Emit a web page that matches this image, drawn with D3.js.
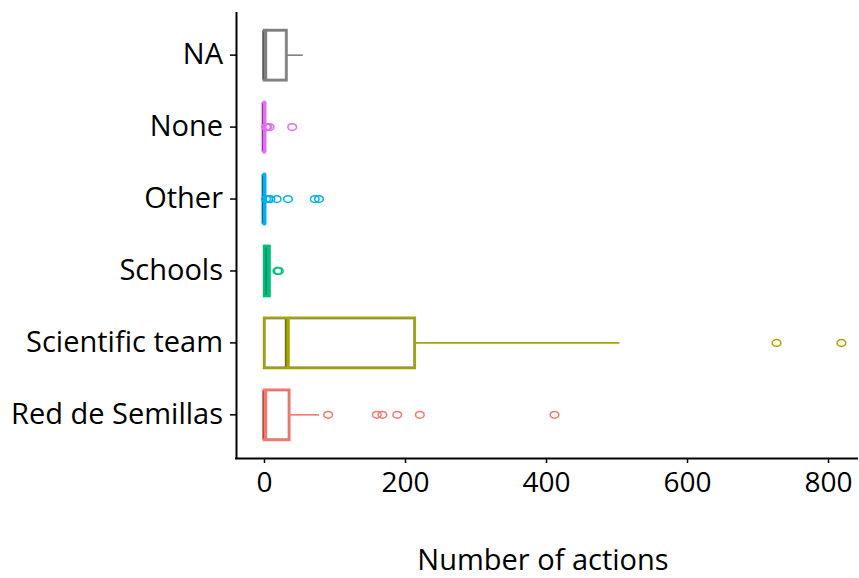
<!DOCTYPE html>
<html>
<head>
<meta charset="utf-8">
<script src="https://cdn.jsdelivr.net/npm/d3@7"></script>
<style>
  html, body { margin: 0; padding: 0; background: #fff; }
  svg text { font-family: "Open Sans", "Noto Sans", sans-serif; fill: #000; }
</style>
</head>
<body>
<svg id="chart" width="859" height="578"></svg>
<script>
// Groups, listed bottom to top
const groups = ["Red de Semillas", "Scientific team", "Schools", "Other", "None", "NA"];
const colors = ["#F8766D", "#A3A500", "#00BF7D", "#00B0F6", "#E76BF3", "#7F7F7F"];

// Box statistics per group (number of actions)
const q1 =        [0,   0,   0, 0, 0, 0];
const median =    [1,  33,   5, 0, 0, 1];
const q3 =        [36, 214,  8, 1, 1, 32];
const whiskerLo = [0,   0,   0, 0, 0, 0];
const whiskerHi = [78, 504,  8, 1, 1, 55];
const outliers = [
  [91, 160, 168, 189, 221, 412],
  [727, 819],
  [19, 21],
  [3, 6, 9, 18, 34, 72, 78],
  [3, 5, 8, 40],
  []
];

const xTicks = [0, 200, 400, 600, 800];
const xTitle = "Number of actions";

const svg = d3.select("#chart");
const margin = { left: 236, right: 858, top: 12, bottom: 458 };

const x = d3.scaleLinear().domain([-39.7, 842.5]).range([margin.left, margin.right]);
const y = d3.scaleBand().domain(groups).range([margin.bottom, margin.top]).paddingOuter(0.1).paddingInner(0);
// discrete axis centred on each band
const yc = g => y(g) + y.bandwidth() / 2;
const boxH = y.bandwidth() * 0.7;

const plot = svg.append("g");

groups.forEach((g, i) => {
  const cy = yc(g);
  const col = colors[i];
  const gg = plot.append("g");

  // whiskers
  gg.append("line")
    .attr("x1", x(q3[i])).attr("x2", x(whiskerHi[i]))
    .attr("y1", cy).attr("y2", cy)
    .attr("stroke", col).attr("stroke-width", 1.6);
  gg.append("line")
    .attr("x1", x(whiskerLo[i])).attr("x2", x(q1[i]))
    .attr("y1", cy).attr("y2", cy)
    .attr("stroke", col).attr("stroke-width", 1.6);

  // box
  const bx0 = x(q1[i]), bx1 = x(q3[i]);
  gg.append("rect")
    .attr("x", bx0).attr("y", cy - boxH / 2)
    .attr("width", Math.max(bx1 - bx0, 0.5)).attr("height", boxH)
    .attr("fill", "#fff").attr("stroke", col).attr("stroke-width", 2.4);
  if (bx1 - bx0 > 4) {
    gg.append("rect")
      .attr("x", bx0 + 1.4).attr("y", cy - boxH / 2 + 1.4)
      .attr("width", bx1 - bx0 - 2.8).attr("height", boxH - 2.8)
      .attr("fill", "none").attr("stroke", "#333").attr("stroke-opacity", 0.45).attr("stroke-width", 0.8);
  }

  // median
  const mx = x(median[i]);
  gg.append("line")
    .attr("x1", mx).attr("x2", mx)
    .attr("y1", cy - boxH / 2).attr("y2", cy + boxH / 2)
    .attr("stroke", col).attr("stroke-width", 5);
  gg.append("line")
    .attr("x1", mx - 1.5).attr("x2", mx - 1.5)
    .attr("y1", cy - boxH / 2 + 1.5).attr("y2", cy + boxH / 2 - 1.5)
    .attr("stroke", "#222").attr("stroke-opacity", 0.55).attr("stroke-width", 1);

  // outliers
  gg.selectAll("ellipse").data(outliers[i]).join("ellipse")
    .attr("cx", d => x(d)).attr("cy", cy)
    .attr("rx", 4.3).attr("ry", 3.4)
    .attr("fill", "none").attr("stroke", col).attr("stroke-width", 1.5);
});

// axes
const xAxis = svg.append("g")
  .attr("transform", `translate(0,${margin.bottom})`)
  .call(d3.axisBottom(x).tickValues(xTicks).tickSize(5).tickPadding(4).tickSizeOuter(0));
xAxis.select(".domain").attr("stroke", "#000").attr("stroke-width", 2)
  .attr("d", `M${margin.left - 1},0.5H${margin.right}`);
xAxis.selectAll(".tick line").attr("stroke", "#000").attr("stroke-width", 1.5);
xAxis.selectAll(".tick text").attr("font-size", 28).attr("dy", "0.9em");

const yAxis = svg.append("g")
  .attr("transform", `translate(${margin.left},0)`)
  .call(d3.axisLeft(y).tickSize(6).tickPadding(7).tickSizeOuter(0));
yAxis.select(".domain").attr("stroke", "#000").attr("stroke-width", 2)
  .attr("d", `M0.5,${margin.top}V${margin.bottom + 1}`);
yAxis.selectAll(".tick line").attr("stroke", "#000").attr("stroke-width", 1.5);
yAxis.selectAll(".tick text").attr("font-size", 29);

svg.append("text")
  .attr("x", 543).attr("y", 570)
  .attr("text-anchor", "middle")
  .attr("font-size", 29)
  .text(xTitle);
</script>
</body>
</html>
